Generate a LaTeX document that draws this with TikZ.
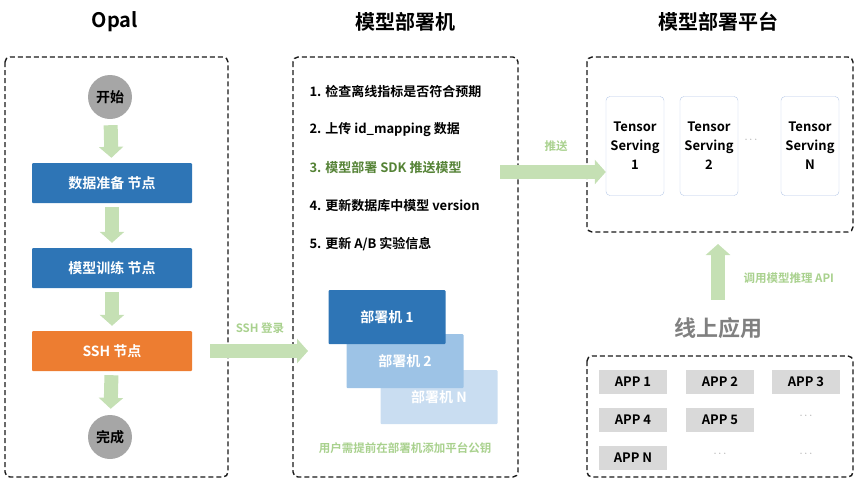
\documentclass[tikz,border=0pt]{standalone}
\usepackage{fontspec}
\setmainfont{Noto Sans CJK SC}[BoldFont={Noto Sans CJK SC Bold}]
\usetikzlibrary{arrows.meta}
\definecolor{blueA}{HTML}{2E75B6}
\definecolor{blueB}{HTML}{9DC3E6}
\definecolor{blueC}{HTML}{C9DDF1}
\definecolor{orangeA}{HTML}{ED7D31}
\definecolor{greenA}{HTML}{C5E0B4}
\definecolor{greenT}{HTML}{A9D18E}
\definecolor{greenD}{HTML}{548235}
\definecolor{grayA}{HTML}{A6A6A6}
\definecolor{grayB}{HTML}{D9D9D9}
\definecolor{lineB}{HTML}{B4C7E7}
\tikzset{
  zone/.style={draw=black!90, dash pattern=on 5pt off 3pt, line width=1.4pt, rounded corners=5pt},
  title/.style={font=\bfseries\fontsize{20}{24}\selectfont},
  stage/.style={fill=blueA, text=white, rounded corners=1pt, minimum width=160pt, minimum height=40pt, font=\bfseries\fontsize{14}{16}\selectfont},
  ends/.style={circle, fill=grayA, minimum size=44pt, inner sep=0pt, font=\bfseries\fontsize{14}{16}\selectfont},
  host/.style={rounded corners=1pt, text=white, minimum width=117pt, minimum height=54pt, font=\bfseries\fontsize{14}{16}\selectfont},
  serve/.style={draw=lineB, rounded corners=4pt, minimum width=58pt, minimum height=99pt, align=center, font=\bfseries\fontsize{13}{19}\selectfont},
  app/.style={fill=grayB, minimum width=68pt, minimum height=24pt, font=\bfseries\fontsize{13}{15}\selectfont},
  item/.style={anchor=west, font=\bfseries\fontsize{13}{15}\selectfont},
  note/.style={text=greenT, font=\bfseries\fontsize{11.5}{13}\selectfont},
  dots/.style={text=black!40, font=\fontsize{11}{12}\selectfont},
  flow/.style={draw=greenA, line width=14pt, -{Triangle[length=11pt 0,width=24pt 0]}},
}
\begin{document}
\begin{tikzpicture}[x=1pt,y=-1pt]
\useasboundingbox (0,0) rectangle (863,480);

% titles
\node[title] at (115,22) {Opal};
\node[title] at (405,22) {模型部署机};
\node[title] at (718,22) {模型部署平台};

% dashed zones
\draw[zone] (5,57) rectangle (228,477);
\draw[zone] (293,57) rectangle (518,477);
\draw[zone] (587,57) rectangle (853,232);
\draw[zone] (587,356) rectangle (853,477);

% Opal flow
\node[ends] (start) at (110,97) {开始};
\node[stage] (prep) at (112,183) {数据准备 节点};
\node[stage] (train) at (112,268) {模型训练 节点};
\node[stage, fill=orangeA] (ssh) at (112,351) {SSH 节点};
\node[ends] (done) at (110,437) {完成};
\draw[flow, shorten <=6pt, shorten >=5pt] (start) -- (prep);
\draw[flow, shorten <=4pt, shorten >=5pt] (prep) -- (train);
\draw[flow, shorten <=4pt, shorten >=5pt] (train) -- (ssh);
\draw[flow, shorten <=4pt, shorten >=6pt] (ssh) -- (done);

% deploy host
\node[item] (s1) at (306,92) {1. 检查离线指标是否符合预期};
\node[item] (s2) at (306,130) {2. 上传 id\_mapping 数据};
\node[item, text=greenD] (s3) at (306,168) {3. 模型部署 SDK 推送模型};
\node[item] (s4) at (306,206) {4. 更新数据库中模型 version};
\node[item] (s5) at (306,244) {5. 更新 A/B 实验信息};
\node[host, fill=blueC] (hN) at (439,397) {部署机 N};
\node[host, fill=blueB] (h2) at (405,361) {部署机 2};
\node[host, fill=blueA] (h1) at (387,317) {部署机 1};
\node[note] (key) at (405,448) {用户需提前在部署机添加平台公钥};

\coordinate (sshin) at (308,351);
\draw[flow, shorten <=18pt] (ssh) -- (sshin);
\node[note] at (260,328) {SSH 登录};

% platform
\node[serve] (t1) at (635,146) {Tensor\\Serving\\1};
\node[serve] (t2) at (709,146) {Tensor\\Serving\\2};
\node[serve] (tN) at (810,146) {Tensor\\Serving\\N};
\node[dots] at (751,140) {$\cdots$};
\coordinate (pushfrom) at (500,172);
\draw[flow] (pushfrom) -- (t1.west |- pushfrom);
\node[note] at (556,146) {推送};

% online apps
\node[text=black!50, font=\bfseries\fontsize{22}{26}\selectfont] (online) at (718,328) {线上应用};
\draw[flow, shorten <=14pt, shorten >=12pt] (online) -- (online |- 0,232);
\node[note, anchor=west] at (740,278) {调用模型推理 API};
\node[app] (p1) at (633,382) {APP 1};
\node[app] (p2) at (720,382) {APP 2};
\node[app] (p3) at (806,382) {APP 3};
\node[app] (p4) at (633,420) {APP 4};
\node[app] (p5) at (720,420) {APP 5};
\node[app] (pN) at (633,458) {APP N};
\node[dots] at (806,416) {$\cdots$};
\node[dots] at (720,454) {$\cdots$};
\node[dots] at (806,454) {$\cdots$};
\end{tikzpicture}
\end{document}
